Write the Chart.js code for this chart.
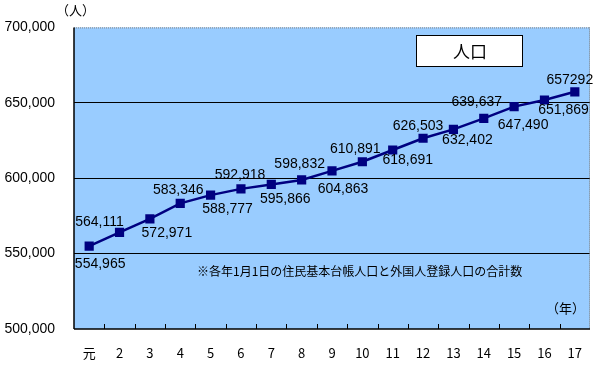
<!DOCTYPE html>
<html>
<head>
<meta charset="utf-8">
<script src="https://cdn.jsdelivr.net/npm/chart.js@4/dist/chart.umd.min.js"></script>
<style>
html,body{margin:0;padding:0;background:#fff;}
#wrap{width:600px;height:368px;position:relative;}
</style>
</head>
<body>
<div id="wrap"><canvas id="c" width="600" height="368"></canvas></div>
<script>
const categories = ['元','2','3','4','5','6','7','8','9','10','11','12','13','14','15','16','17'];
const population = [554965,564111,572971,583346,588777,592918,595866,598832,604863,610891,618691,626503,632402,639637,647490,651869,657292];
const pointLabels = ['554,965','564,111','572,971','583,346','588,777','592,918','595,866','598,832','604,863','610,891','618,691','626,503','632,402','639,637','647,490','651,869','657292'];
const yTicks = [500000,550000,600000,650000,700000];
const titleText = '人口';
const noteText = '※各年1月1日の住民基本台帳人口と外国人登録人口の合計数';
const yUnit = '（人）';
const xUnit = '（年）';

// label offsets (layout only)
const labelOffsets = [[11,18],[-20,-10],[17,14],[-2,-13],[17,14],[-1,-14],[14,15],[-2,-16],[11,18],[-7,-13],[15,10],[-5,-12],[14,11],[-7,-16],[9,19],[19,10],[-5,-12]];

const fmt = v => v.toLocaleString('en-US');

const deco = {
  id:'deco',
  beforeDraw(chart){
    const {ctx, chartArea:a} = chart;
    ctx.save();
    ctx.fillStyle='#fff';
    ctx.fillRect(0,0,chart.width,chart.height);
    ctx.fillStyle='#99CCFF';
    ctx.fillRect(a.left,a.top,a.right-a.left,a.bottom-a.top);
    ctx.restore();
  },
  afterDraw(chart){
    const {ctx, chartArea:a, scales} = chart;
    const xs = scales.x;
    ctx.save();
    ctx.strokeStyle='#808080';
    ctx.lineWidth=1;
    ctx.setLineDash([1,1]);
    ctx.beginPath();
    ctx.moveTo(a.left, a.top+0.5); ctx.lineTo(a.right, a.top+0.5);
    ctx.moveTo(a.right-0.5, a.top); ctx.lineTo(a.right-0.5, a.bottom);
    ctx.stroke();
    ctx.setLineDash([]);
    ctx.strokeStyle='#000';
    ctx.lineWidth=1.5;
    ctx.beginPath();
    ctx.moveTo(a.left, a.top); ctx.lineTo(a.left, a.bottom);
    ctx.moveTo(a.left, a.bottom); ctx.lineTo(a.right, a.bottom);
    ctx.stroke();
    ctx.lineWidth=1;
    const w = xs.getPixelForValue(1)-xs.getPixelForValue(0);
    ctx.beginPath();
    for(let i=1;i<categories.length;i++){
      const x = Math.round(xs.getPixelForValue(i)-w/2)+0.5;
      ctx.moveTo(x, a.bottom); ctx.lineTo(x, a.bottom-5);
    }
    ctx.stroke();
    const meta = chart.getDatasetMeta(0);
    ctx.fillStyle='#000';
    ctx.font='14px "Liberation Sans", Arial, sans-serif';
    ctx.textAlign='center';
    ctx.textBaseline='middle';
    meta.data.forEach((p,i)=>{
      const o = labelOffsets[i];
      ctx.fillText(pointLabels[i], p.x+o[0], p.y+o[1]);
    });
    const bx=416, by=35, bw=106, bh=31;
    ctx.fillStyle='#fff';
    ctx.fillRect(bx,by,bw,bh);
    ctx.strokeStyle='#000';
    ctx.lineWidth=1;
    ctx.strokeRect(bx+0.5,by+0.5,bw,bh);
    ctx.fillStyle='#000';
    ctx.font='17px "Noto Sans CJK JP", sans-serif';
    ctx.fillText(titleText, bx+bw/2+1, by+bh/2+1);
    ctx.font='12px "Noto Sans CJK JP", sans-serif';
    ctx.textAlign='left';
    ctx.fillText(noteText, 197, 271);
    ctx.font='13px "Noto Sans CJK JP", sans-serif';
    ctx.fillText(xUnit, 546, 308);
    ctx.fillText(yUnit, 56, 10);
    ctx.restore();
  }
};

new Chart(document.getElementById('c'), {
  type:'line',
  data:{
    labels:categories,
    datasets:[{
      data:population,
      borderColor:'#000080',
      backgroundColor:'#000080',
      borderWidth:2.5,
      pointStyle:'rect',
      pointRadius:6.5,
      pointBorderWidth:0,
      pointBackgroundColor:'#000080',
      tension:0
    }]
  },
  options:{
    responsive:false,
    animation:false,
    devicePixelRatio:1,
    layout:{padding:{top:24,right:10,left:0,bottom:0}},
    plugins:{legend:{display:false},tooltip:{enabled:false}},
    scales:{
      x:{
        offset:true,
        grid:{display:false,drawTicks:false},
        border:{display:false},
        ticks:{color:'#000',padding:16,font:{size:13,family:'"Noto Sans CJK JP","Liberation Sans",sans-serif'},maxRotation:0,autoSkip:false},
        afterFit(s){s.height=39;}
      },
      y:{
        min:500000,max:700000,
        afterBuildTicks(s){s.ticks=yTicks.map(v=>({value:v}));},
        grid:{color:(c)=> (c.tick && (c.tick.value===700000||c.tick.value===500000)) ? 'rgba(0,0,0,0)' : '#000', lineWidth:1, drawTicks:false},
        border:{display:false},
        ticks:{color:'#000',padding:19,font:{size:14,family:'"Liberation Sans",Arial,sans-serif'},callback:v=>fmt(v)},
        afterFit(s){s.width=74;}
      }
    }
  },
  plugins:[deco]
});
</script>
</body>
</html>
